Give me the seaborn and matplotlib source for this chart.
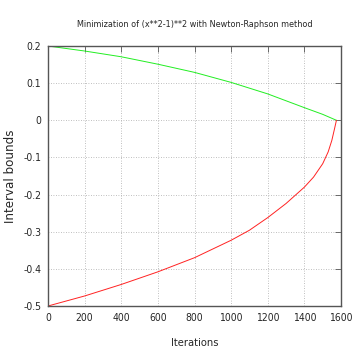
import numpy as np
import pandas as pd
import matplotlib
matplotlib.use("Agg")
import matplotlib.pyplot as plt
import seaborn as sns

# values
iters_upper = [0, 200, 400, 600, 800, 1000, 1200, 1400, 1500, 1575]
upper = [0.2, 0.1865, 0.171, 0.151, 0.129, 0.102, 0.071, 0.034, 0.016, 0.0]

iters_lower = [0, 200, 400, 600, 800, 1000, 1100, 1200, 1300, 1400, 1450, 1500, 1530, 1550, 1565, 1575]
lower = [-0.5, -0.473, -0.442, -0.408, -0.370, -0.323, -0.296, -0.262, -0.224, -0.180, -0.153, -0.117, -0.085, -0.054, -0.022, 0.0]

df = pd.concat([
    pd.DataFrame({"Iterations": iters_upper, "bound": upper, "side": "upper"}),
    pd.DataFrame({"Iterations": iters_lower, "bound": lower, "side": "lower"}),
])

sns.set_style("white")
plt.rcParams['font.family'] = ['DejaVu Sans']
plt.rcParams['font.stretch'] = 'condensed'

fig = plt.figure(figsize=(3.54, 3.54), dpi=100)
ax = fig.add_axes([48 / 354, 48 / 354, 293 / 354, 260 / 354])

sns.lineplot(data=df, x="Iterations", y="bound", hue="side",
             palette={"upper": "#22ee22", "lower": "#ff2222"},
             linewidth=0.7, legend=False, ax=ax, sort=False, estimator=None)

ax.set_xlim(0, 1600)
ax.set_ylim(-0.5, 0.2)
ax.set_xticks(np.arange(0, 1601, 200))
ax.set_yticks([-0.5, -0.4, -0.3, -0.2, -0.1, 0, 0.1, 0.2])
ax.set_yticklabels(["-0.5", "-0.4", "-0.3", "-0.2", "-0.1", "0", "0.1", "0.2"])
ax.grid(True, linestyle=(0, (1, 2)), color="#aaaaaa", linewidth=0.6)
ax.tick_params(direction="in", length=4, width=0.6, labelsize=7.5, color="#555555",
               top=True, right=True, pad=5)
for s in ax.spines.values():
    s.set_color("#555555")
    s.set_linewidth(1.0)

ax.set_xlabel("Iterations", fontsize=8, labelpad=11)
ax.set_ylabel("Interval bounds", fontsize=8.6, fontstretch='normal')
ax.yaxis.set_label_coords(-31 / 293, 0.5)
ax.set_title("Minimization of (x**2-1)**2 with Newton-Raphson method", fontsize=6.5, pad=14)

fig.savefig("out.png", dpi=100)
